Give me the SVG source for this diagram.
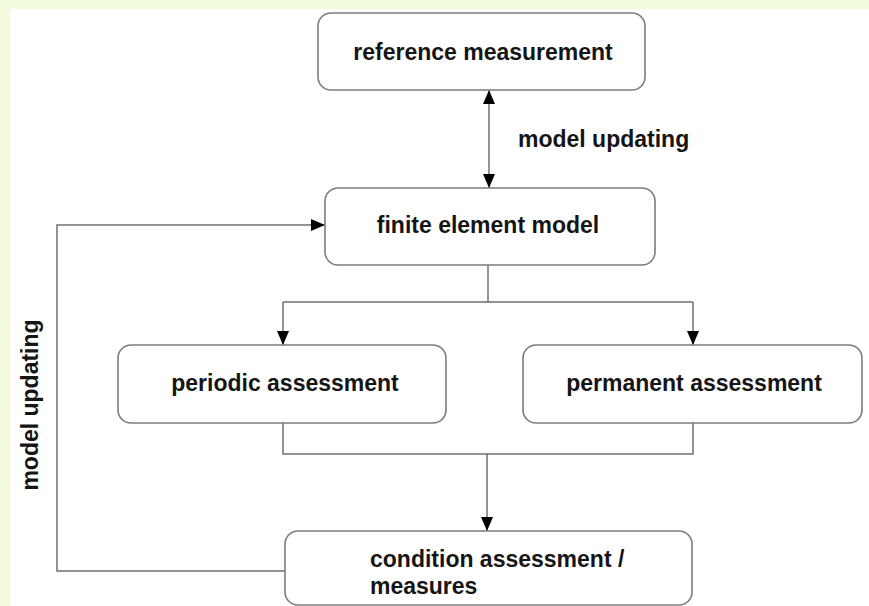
<svg xmlns="http://www.w3.org/2000/svg" width="869" height="606" viewBox="0 0 869 606">
<style>
.box{fill:#ffffff;stroke:#7c7c7c;stroke-width:1.6}
.ln{fill:none;stroke:#707070;stroke-width:1.5}
.t{font-family:"Liberation Sans",Arial,sans-serif;font-weight:bold;font-size:23px;fill:#151515}
.c{text-anchor:middle}
</style>
<defs>
<marker id="ah" viewBox="0 0 14 12" refX="14" refY="6" markerWidth="14" markerHeight="12" markerUnits="userSpaceOnUse" orient="auto-start-reverse">
<path d="M0,0 L14,6 L0,12 z" fill="#000"/>
</marker>
</defs>
<rect x="0" y="0" width="869" height="606" fill="#ffffff"/>
<rect x="0" y="0" width="869" height="9" fill="#f2fcdc"/>
<rect x="0" y="0" width="10" height="606" fill="#f2fcdc"/>
<g id="connectors">
<line class="ln" x1="489" y1="90" x2="489" y2="188" marker-start="url(#ah)" marker-end="url(#ah)"/>
<polyline class="ln" points="285,571 57,571 57,225 325,225" marker-end="url(#ah)"/>
<line class="ln" x1="488" y1="265" x2="488" y2="302"/>
<line class="ln" x1="283" y1="302" x2="693" y2="302"/>
<line class="ln" x1="283" y1="302" x2="283" y2="345" marker-end="url(#ah)"/>
<line class="ln" x1="693" y1="302" x2="693" y2="345" marker-end="url(#ah)"/>
<polyline class="ln" points="283,423 283,454 693,454 693,423"/>
<line class="ln" x1="487" y1="454" x2="487" y2="531" marker-end="url(#ah)"/>
<text class="t" x="518" y="147">model updating</text>
<text class="t c" transform="translate(38,405) rotate(-90)">model updating</text>
</g>
<g id="reference">
<rect class="box" x="318" y="13" width="327" height="77" rx="13"/>
<text class="t c" x="483" y="60">reference measurement</text>
</g>
<g id="fem">
<rect class="box" x="325" y="188" width="330" height="77" rx="13"/>
<text class="t c" x="488" y="233">finite element model</text>
</g>
<g id="periodic">
<rect class="box" x="118" y="345" width="328" height="78" rx="13"/>
<text class="t c" x="285" y="391">periodic assessment</text>
</g>
<g id="permanent">
<rect class="box" x="523" y="345" width="339" height="78" rx="13"/>
<text class="t c" x="694" y="391">permanent assessment</text>
</g>
<g id="condition">
<rect class="box" x="285" y="531" width="407" height="74" rx="13"/>
<text class="t" x="370" y="567">condition assessment /</text>
<text class="t" x="370" y="594">measures</text>
</g>
</svg>
